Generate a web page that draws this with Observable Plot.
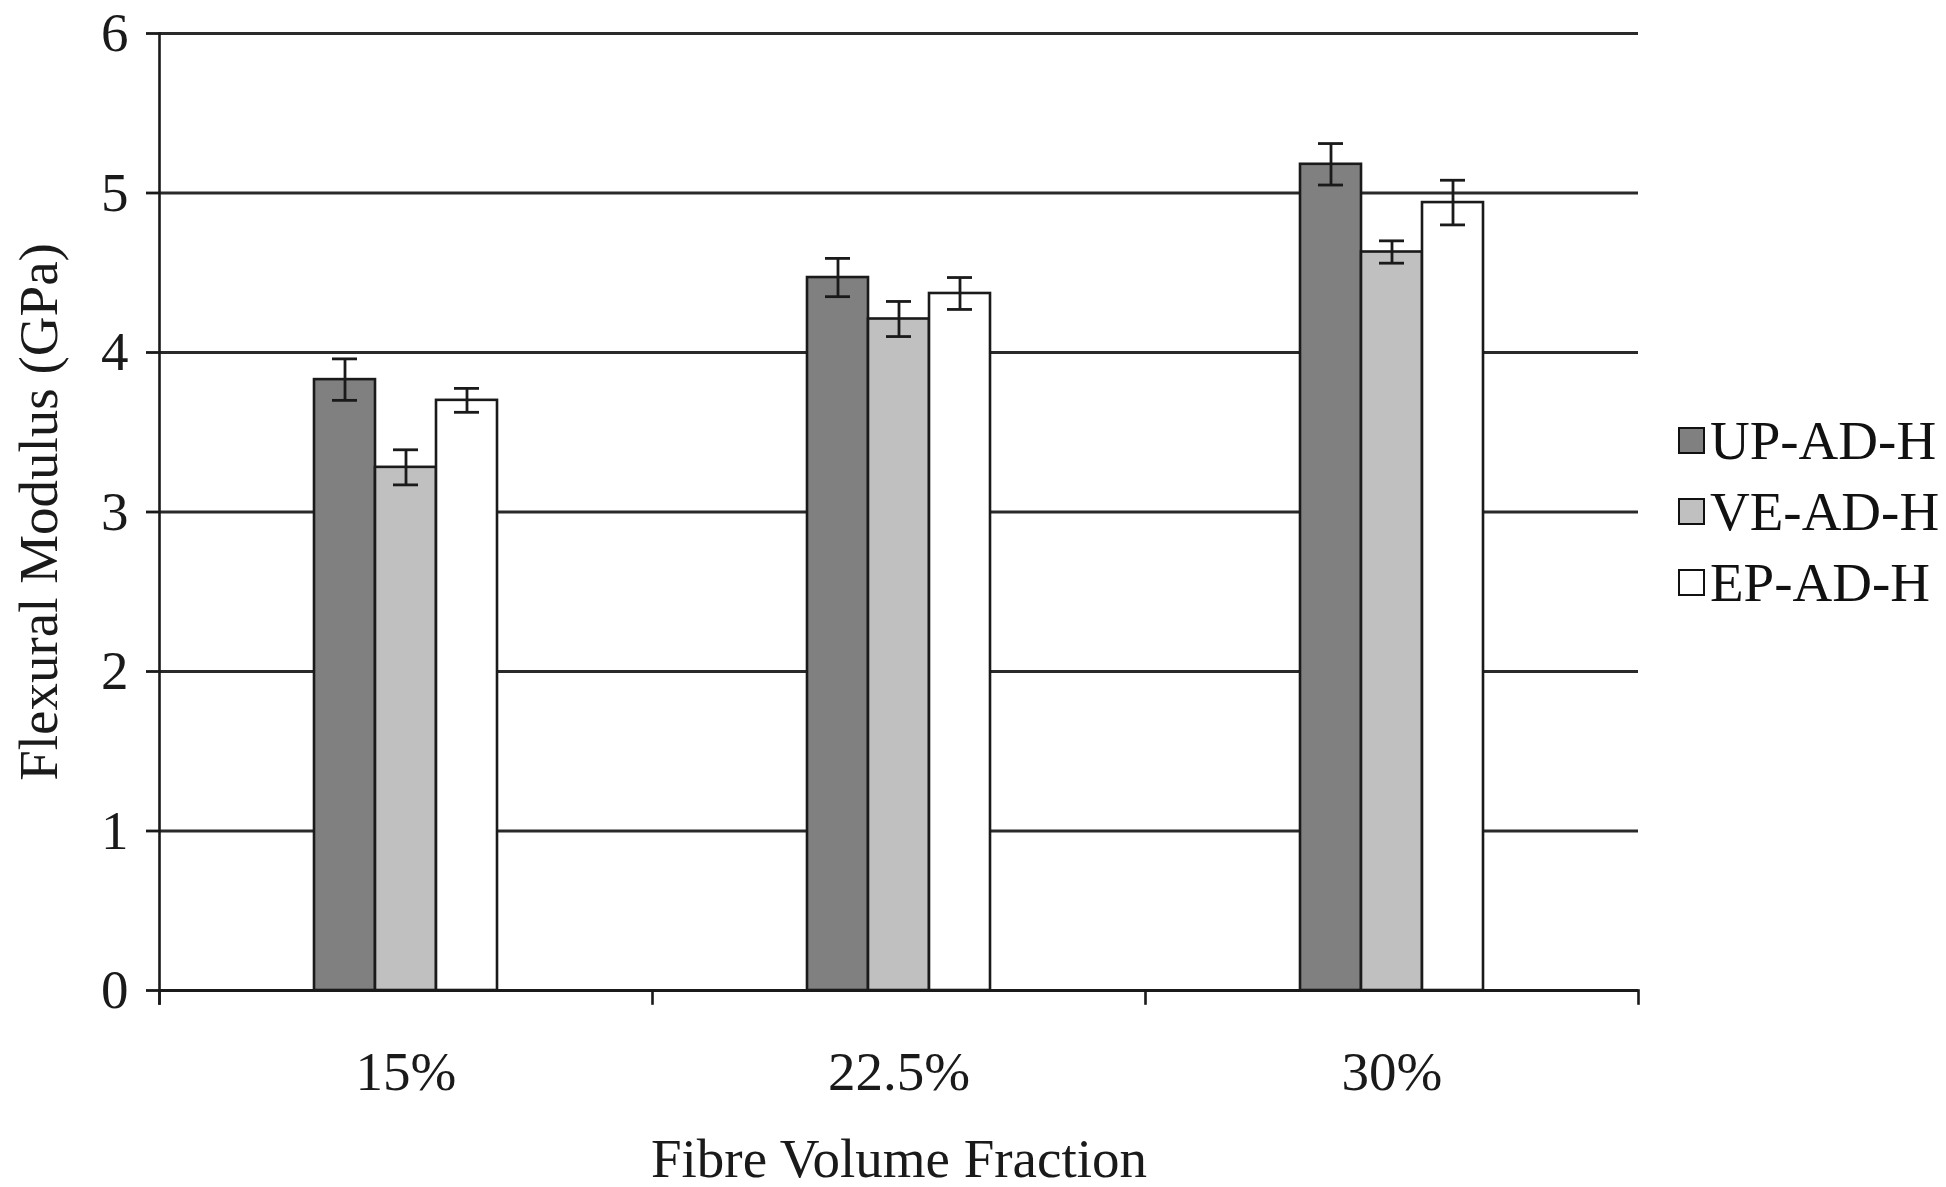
<!DOCTYPE html>
<html><head><meta charset="utf-8">
<script src="https://cdn.jsdelivr.net/npm/d3@7"></script>
<script src="https://cdn.jsdelivr.net/npm/@observablehq/plot@0.6"></script>
<style>
body{margin:0;background:#fff;}
#wrap{position:relative;width:1946px;height:1187px;}
#legend{position:absolute;left:1678px;top:405px;font-family:"Liberation Serif","Times New Roman",serif;font-size:55px;color:#111;}
.item{display:flex;align-items:center;height:71px;white-space:nowrap;}
.sw{width:27px;height:27px;border:2.5px solid #111;box-sizing:border-box;margin-right:5px;}
</style></head>
<body><div id="wrap"><div id="chart"></div><div id="legend"></div></div>
<script>
const categories = ["15%", "22.5%", "30%"];
const series = ["UP-AD-H", "VE-AD-H", "EP-AD-H"];
const seriesColors = ["#808080", "#c0c0c0", "#ffffff"];
const upValues = [3.83, 4.47, 5.18];
const upErrors = [0.13, 0.12, 0.13];
const veValues = [3.28, 4.21, 4.63];
const veErrors = [0.11, 0.11, 0.07];
const epValues = [3.70, 4.37, 4.94];
const epErrors = [0.075, 0.10, 0.14];
const yTicks = [0, 1, 2, 3, 4, 5, 6];

const allValues = [upValues, veValues, epValues];
const allErrors = [upErrors, veErrors, epErrors];
const rows = [];
series.forEach((s, si) => categories.forEach((c, ci) => rows.push({category: c, series: s, value: allValues[si][ci], err: allErrors[si][ci]})));

const W = 1946, H = 1187, mt = 33, mb = 197, ml = 159, mr = 308;
const innerH = H - mt - mb;
const ink = "#1a1a1a";

const chart = Plot.plot({
  width: W, height: H,
  marginTop: mt, marginBottom: mb, marginLeft: ml, marginRight: mr,
  style: {fontFamily: '"Liberation Serif", "Times New Roman", serif', fontSize: "55px", color: ink, background: "#fff"},
  fx: {domain: categories, padding: 0},
  x: {domain: series, paddingInner: 0, paddingOuter: 2.48, axis: null},
  y: {domain: [0, 6]},
  color: {domain: series, range: seriesColors},
  marks: [
    Plot.gridY(yTicks.slice(1), {stroke: "#2a2a2a", strokeOpacity: 1, strokeWidth: 2.8}),
    Plot.barY(rows, {fx: "category", x: "series", y: "value", fill: "series", stroke: ink, strokeWidth: 2.6}),
    Plot.ruleX(rows, {fx: "category", x: "series", y1: d => d.value - d.err, y2: d => d.value + d.err, stroke: ink, strokeWidth: 2.8}),
    Plot.tickY(rows, {fx: "category", x: "series", y: d => d.value + d.err, insetLeft: 18, insetRight: 18, stroke: ink, strokeWidth: 2.8}),
    Plot.tickY(rows, {fx: "category", x: "series", y: d => d.value - d.err, insetLeft: 18, insetRight: 18, stroke: ink, strokeWidth: 2.8}),
    Plot.ruleY([0], {stroke: ink, strokeWidth: 2.8}),
    Plot.frame({anchor: "left", facetAnchor: "left", insetBottom: -13, stroke: ink, strokeWidth: 2.6}),
    Plot.frame({anchor: "left", insetTop: innerH, insetBottom: -13, stroke: ink, strokeWidth: 2.6}),
    Plot.frame({anchor: "right", facetAnchor: "right", insetTop: innerH, insetBottom: -13, stroke: ink, strokeWidth: 2.6}),
    Plot.axisY(yTicks, {tickSize: 13, tickPadding: 18, fontSize: 55, stroke: ink, strokeWidth: 2.8, tickFormat: d => String(d),
      label: "Flexural Modulus (GPa)", labelAnchor: "center", labelOffset: 142, labelArrow: "none"}),
    Plot.axisFx({anchor: "bottom", tickSize: 0, tickPadding: 60, fontSize: 55,
      label: "Fibre Volume Fraction", labelAnchor: "center", labelOffset: 186, labelArrow: "none"})
  ]
});
document.getElementById("chart").appendChild(chart);

const legend = document.getElementById("legend");
series.forEach((s, i) => {
  const item = document.createElement("div");
  item.className = "item";
  const sw = document.createElement("div");
  sw.className = "sw";
  sw.style.background = seriesColors[i];
  const t = document.createElement("span");
  t.textContent = s;
  item.appendChild(sw);
  item.appendChild(t);
  legend.appendChild(item);
});
</script>
</body></html>
